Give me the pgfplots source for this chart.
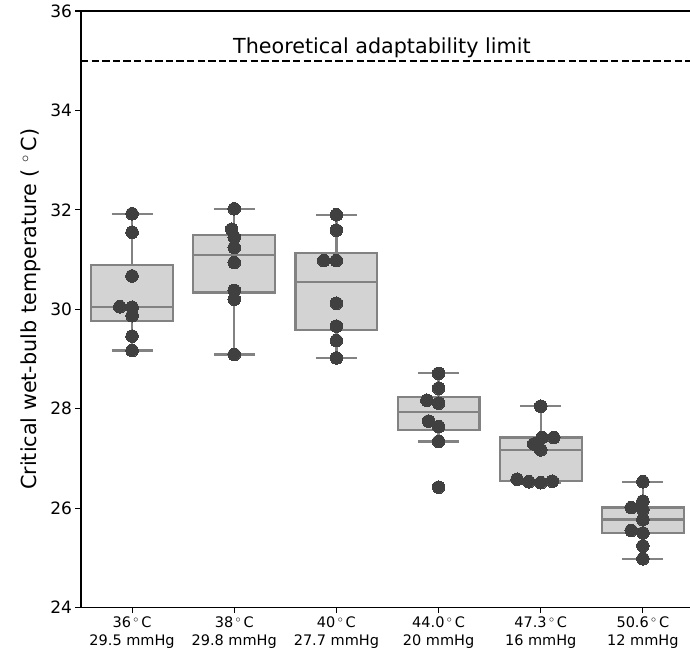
\documentclass[border=0pt]{standalone}
\usepackage{pgfplots}
\pgfplotsset{compat=1.18}
\usepgfplotslibrary{statistics}
\usepackage{fontspec}
\setmainfont{DejaVu Sans}

\definecolor{boxfill}{RGB}{211,211,211}
\definecolor{boxline}{RGB}{130,130,130}
\definecolor{dotc}{RGB}{64,64,64}

\pgfplotsset{
  bx/.style={draw=boxline, fill=boxfill, line width=2.2pt, solid},
  dots/.style={only marks, color=dotc, mark=*, mark size=6.3pt, mark options={draw=dotc, fill=dotc, line width=0pt}},
}

\begin{document}
\begin{tikzpicture}
% page: 81pt left of the axis, 44pt below, 11pt above; the right edge cuts the plot
\useasboundingbox (-81pt,-44pt) rectangle (609pt,607.5pt);
\clip (-81pt,-44pt) rectangle (606pt,607.5pt)
      (606pt,-1pt) rectangle (609pt,1pt)
      (606pt,545.5pt) rectangle (609pt,548.1pt)
      (606pt,595.6pt) rectangle (609pt,597.4pt);
\begin{axis}[name=ax, at={(0pt,0pt)}, anchor=south west,
  scale only axis, width=613pt, height=596.5pt,
  xmin=-0.5, xmax=5.5, ymin=24, ymax=36,
  axis lines*=left,
  axis line style={black, line width=1.1pt},
  tick style={black, line width=1.1pt},
  major tick length=5.5pt,
  tick align=outside, tick pos=left,
  ytick={24,26,...,36},
  xtick={0,...,5},
  xticklabels={{36\,$^\circ$\,C\\29.5 mmHg},{38\,$^\circ$\,C\\29.8 mmHg},{40\,$^\circ$\,C\\27.7 mmHg},
               {44.0\,$^\circ$\,C\\20 mmHg},{47.3\,$^\circ$\,C\\16 mmHg},{50.6\,$^\circ$\,C\\12 mmHg}},
  xticklabel style={align=center, font=\fontsize{14.5}{18}\selectfont},
  yticklabel style={font=\fontsize{17}{20}\selectfont},
  /pgf/number format/assume math mode=true,
  ylabel={Critical wet-bulb temperature ( $^\circ$\,C)},
  every axis y label/.style={at={(axis description cs:0,0.5)}, rotate=90, anchor=center, yshift=50pt,
    font=\fontsize{20.7}{24}\selectfont},
  boxplot/draw direction=y,
  boxplot/box extend=0.8,
  boxplot/whisker extend=0.4,
  clip=false,
]
% top spine (the right one lies outside the picture)
\draw[black, line width=1.1pt] (rel axis cs:0,1) -- (rel axis cs:1,1);

% limit line
\addplot[black, line width=2pt, dash pattern=on 7.4pt off 3.2pt] coordinates {(-0.5,35) (5.5,35)};
\node[anchor=base, font=\fontsize{20.7}{24}\selectfont] at (axis cs:2.445,35.155) {Theoretical adaptability limit};

% boxes
\addplot[bx, boxplot prepared={draw position=0, lower whisker=29.17, lower quartile=29.77,
  median=30.045, upper quartile=30.89, upper whisker=31.92}] coordinates {};
\addplot[bx, boxplot prepared={draw position=1, lower whisker=29.09, lower quartile=30.335,
  median=31.09, upper quartile=31.49, upper whisker=32.02}] coordinates {};
\addplot[bx, boxplot prepared={draw position=2, lower whisker=29.02, lower quartile=29.59,
  median=30.55, upper quartile=31.13, upper whisker=31.90}] coordinates {};
\addplot[bx, boxplot prepared={draw position=3, lower whisker=27.34, lower quartile=27.565,
  median=27.93, upper quartile=28.23, upper whisker=28.71}] coordinates {};
\addplot[bx, boxplot prepared={draw position=4, lower whisker=26.51, lower quartile=26.54,
  median=27.17, upper quartile=27.42, upper whisker=28.05}] coordinates {};
\addplot[bx, boxplot prepared={draw position=5, lower whisker=24.98, lower quartile=25.50,
  median=25.77, upper quartile=26.01, upper whisker=26.53}] coordinates {};

% individual points
\addplot[dots] coordinates {(0,31.92) (0,31.55) (0,30.67) (-0.12,30.05) (0,30.04) (0,29.87) (0,29.46) (0,29.17)};
\addplot[dots] coordinates {(1,32.02) (0.975,31.61) (1,31.45) (1,31.24) (1,30.94) (1,30.38) (1,30.20) (1,29.09)};
\addplot[dots] coordinates {(2,31.90) (2,31.59) (1.876,30.98) (2,30.98) (2,30.12) (2,29.66) (2,29.37) (2,29.02)};
\addplot[dots] coordinates {(3,28.71) (3,28.41) (2.886,28.17) (3,28.11) (2.902,27.75) (3,27.64) (3,27.34) (3,26.42)};
\addplot[dots] coordinates {(4,28.05) (4.013,27.42) (4.127,27.42) (3.932,27.29) (4,27.17) (3.768,26.58) (3.883,26.53) (4,26.51) (4.114,26.54)};
\addplot[dots] coordinates {(5,26.53) (5,26.14) (4.886,26.01) (5,25.97) (5,25.77) (4.886,25.55) (5,25.50) (5,25.24) (5,24.98)};
\end{axis}
\end{tikzpicture}
\end{document}
